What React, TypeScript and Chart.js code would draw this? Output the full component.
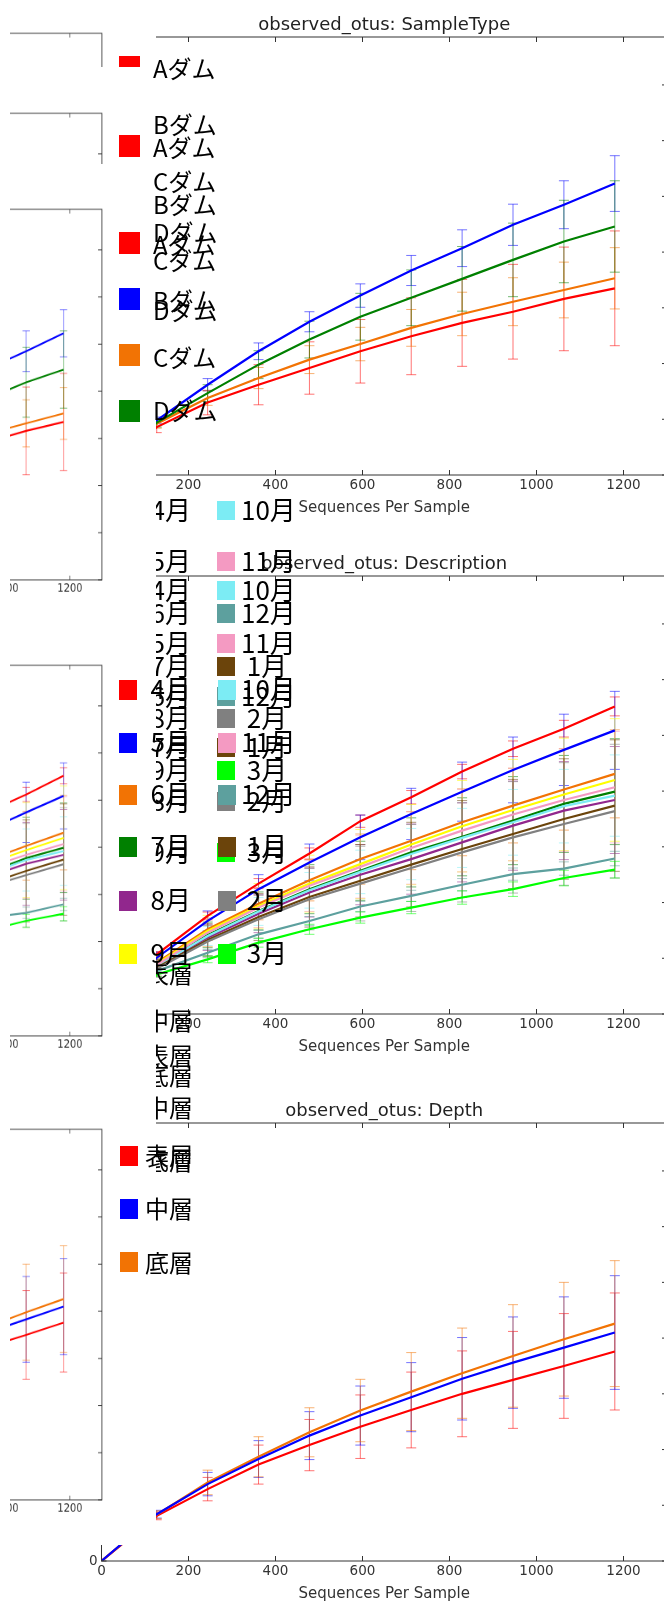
import React, { useEffect, useRef } from "react";
import { Chart, registerables } from "chart.js";

Chart.register(...registerables);

// ---------------- data ----------------
const DEPTHS = [0, 127, 244, 361, 478, 595, 712, 829, 946, 1063, 1180];
const X_TICKS = [0, 200, 400, 600, 800, 1000, 1200];
const Y_TICKS = [0, 10, 20, 30, 40, 50, 60, 70];
const X_MAX = 1300;
const Y_MAX = 78.6;

// observed_otus: SampleType
const SAMPLETYPE_LABELS = ["Aダム", "Bダム", "Cダム", "Dダム"];
const SAMPLETYPE_COLORS = ["#ff0000", "#0000ff", "#f27304", "#008000"];
const DAM_A = [0, 8.6, 13.0, 16.2, 19.2, 22.2, 24.9, 27.3, 29.3, 31.6, 33.5];
const DAM_B = [0, 9.8, 16.2, 22.2, 27.5, 32.2, 36.7, 40.7, 44.9, 48.5, 52.3];
const DAM_C = [0, 9.2, 13.8, 17.4, 20.7, 23.5, 26.4, 28.9, 31.1, 33.2, 35.3];
const DAM_D = [0, 9.4, 14.7, 19.8, 24.3, 28.4, 31.8, 35.2, 38.6, 41.9, 44.6];
const DAM_A_SD = [0, 1.0, 2.2, 3.6, 4.7, 5.7, 6.9, 7.8, 8.5, 9.3, 10.3];
const DAM_B_SD = [0, 0.6, 1.1, 1.5, 1.8, 2.1, 2.7, 3.3, 3.7, 4.3, 5.0];
const DAM_C_SD = [0, 0.8, 1.3, 1.9, 2.5, 3.0, 3.3, 3.9, 4.3, 5.0, 5.5];
const DAM_D_SD = [0, 0.8, 1.5, 2.5, 3.3, 4.2, 5.0, 5.8, 6.6, 7.4, 8.2];

// observed_otus: Description (legend order)
const MONTH_LABELS = ["4月", "5月", "6月", "7月", "8月", "9月", "10月", "11月", "12月", " 1月", " 2月", " 3月"];
const MONTH_COLORS = ["#ff0000", "#0000ff", "#f27304", "#008000", "#91278d", "#ffff00", "#7cecf4", "#f49ac2", "#5da09e", "#6b440b", "#808080", "#00ff00"];
const M04 = [0, 10.7, 17.6, 23.4, 28.8, 34.6, 38.9, 43.5, 47.6, 51.2, 55.2];
const M05 = [0, 10.1, 16.7, 22.4, 27.2, 31.7, 35.9, 39.9, 43.8, 47.4, 50.9];
const M06 = [0, 9.2, 15.2, 19.8, 24.0, 27.8, 31.1, 34.4, 37.4, 40.3, 43.1];
const M07 = [0, 8.7, 14.2, 18.5, 22.4, 25.7, 29.0, 31.8, 34.7, 37.7, 39.9];
const M08 = [0, 8.5, 13.7, 18.0, 21.8, 25.0, 27.8, 30.8, 33.8, 36.5, 38.4];
const M09 = [0, 9.0, 14.9, 19.4, 23.4, 26.9, 30.4, 33.7, 36.6, 39.4, 42.0];
const M10 = [0, 8.6, 14.0, 18.4, 22.2, 25.5, 28.7, 31.6, 34.4, 37.3, 39.2];
const M11 = [0, 8.8, 14.6, 19.1, 23.0, 26.4, 29.8, 32.9, 35.8, 38.4, 40.7];
const M12 = [0, 7.7, 11.0, 14.3, 16.7, 19.3, 21.2, 23.2, 25.1, 26.1, 27.9];
const M01 = [0, 8.3, 13.3, 17.4, 21.0, 23.9, 26.8, 29.6, 32.3, 35.0, 37.4];
const M02 = [0, 8.1, 13.0, 17.0, 20.6, 23.4, 26.2, 29.0, 31.7, 34.1, 36.4];
const M03 = [0, 7.1, 9.8, 12.8, 15.2, 17.3, 19.1, 20.9, 22.4, 24.4, 25.9];
const M04_SD = [0, 0.5, 0.7, 0.9, 1.0, 1.1, 1.2, 1.3, 1.4, 1.5, 1.7];
const M05_SD = [0, 1.0, 1.8, 2.6, 3.3, 4.0, 4.6, 5.3, 5.9, 6.4, 7.0];
const M06_SD = [0, 1.1, 2.0, 2.9, 3.7, 4.5, 5.2, 6.0, 6.7, 7.3, 7.9];
const M07_SD = [0, 1.2, 2.3, 3.4, 4.4, 5.3, 6.2, 7.0, 7.9, 8.7, 9.5];
const M08_SD = [0, 1.2, 2.3, 3.4, 4.4, 5.4, 6.3, 7.1, 8.0, 8.8, 9.6];
const M09_SD = [0, 1.5, 2.8, 4.0, 5.1, 6.2, 7.2, 8.2, 9.1, 10.1, 11.0];
const M10_SD = [0, 0.9, 1.7, 2.5, 3.2, 3.9, 4.6, 5.3, 5.9, 6.6, 7.3];
const M11_SD = [0, 1.3, 2.5, 3.6, 4.6, 5.6, 6.5, 7.4, 8.3, 9.2, 10.0];
const M12_SD = [0, 0.4, 0.6, 0.7, 0.8, 0.9, 1.0, 1.1, 1.1, 1.2, 1.3];
const M01_SD = [0, 1.5, 2.9, 4.2, 5.4, 6.5, 7.6, 8.7, 9.8, 10.8, 11.8];
const M02_SD = [0, 1.5, 2.9, 4.3, 5.5, 6.7, 7.8, 8.9, 10.0, 11.0, 12.0];
const M03_SD = [0, 0.4, 0.6, 0.8, 0.9, 1.0, 1.1, 1.2, 1.3, 1.4, 1.5];

// observed_otus: Depth
const DEPTH_LABELS = ["表層", "中層", "底層"];
const DEPTH_COLORS = ["#ff0000", "#0000ff", "#f27304"];
const SURFACE = [0, 8.1, 12.9, 17.3, 20.8, 24.1, 27.1, 30.0, 32.5, 35.0, 37.6];
const MIDDLE = [0, 8.4, 13.8, 18.3, 22.5, 26.1, 29.4, 32.7, 35.6, 38.3, 41.0];
const BOTTOM = [0, 8.3, 14.1, 18.7, 23.1, 27.0, 30.4, 33.7, 36.8, 39.8, 42.6];
const SURFACE_SD = [0, 0.7, 2.1, 3.5, 4.6, 5.7, 6.8, 7.7, 8.7, 9.4, 10.5];
const MIDDLE_SD = [0, 0.7, 2.1, 3.3, 4.3, 5.3, 6.2, 7.4, 8.2, 9.1, 10.2];
const BOTTOM_SD = [0, 0.7, 2.2, 3.6, 4.4, 5.6, 7.0, 8.1, 9.2, 10.2, 11.3];

type Series = { label: string; color: string; values: number[]; sd: number[] };

const SAMPLETYPE: Series[] = [
  { label: SAMPLETYPE_LABELS[0], color: SAMPLETYPE_COLORS[0], values: DAM_A, sd: DAM_A_SD },
  { label: SAMPLETYPE_LABELS[1], color: SAMPLETYPE_COLORS[1], values: DAM_B, sd: DAM_B_SD },
  { label: SAMPLETYPE_LABELS[2], color: SAMPLETYPE_COLORS[2], values: DAM_C, sd: DAM_C_SD },
  { label: SAMPLETYPE_LABELS[3], color: SAMPLETYPE_COLORS[3], values: DAM_D, sd: DAM_D_SD },
];
const MONTH_VALUES = [M04, M05, M06, M07, M08, M09, M10, M11, M12, M01, M02, M03];
const MONTH_SDS = [M04_SD, M05_SD, M06_SD, M07_SD, M08_SD, M09_SD, M10_SD, M11_SD, M12_SD, M01_SD, M02_SD, M03_SD];
const DESCRIPTION: Series[] = MONTH_LABELS.map((l, i) => ({ label: l, color: MONTH_COLORS[i], values: MONTH_VALUES[i], sd: MONTH_SDS[i] }));
const DEPTH: Series[] = [
  { label: DEPTH_LABELS[0], color: DEPTH_COLORS[0], values: SURFACE, sd: SURFACE_SD },
  { label: DEPTH_LABELS[1], color: DEPTH_COLORS[1], values: MIDDLE, sd: MIDDLE_SD },
  { label: DEPTH_LABELS[2], color: DEPTH_COLORS[2], values: BOTTOM, sd: BOTTOM_SD },
];

// drawing order (lower = drawn later / on top)
const SAMPLETYPE_ORDER = [0, -1, -2, -3];
const DESCRIPTION_ORDER = [0, -1, -2, -3, -4, -5, -6, -7, -8, -9, -10, -11];
const DEPTH_ORDER = [0, -2, -1];

// ---------------- chart ----------------
const CW = 720;
const CH = 530;
const PLOT_LEFT = 101.5;
const PLOT_RIGHT = 667;
const PLOT_TOP = 37;
const PLOT_BOTTOM = 475;

const decorPlugin = {
  id: "decor",
  beforeDatasetsDraw(chart: any) {
    const { ctx, chartArea, scales } = chart;
    const xs = scales.x;
    const ys = scales.y;
    ctx.save();
    ctx.beginPath();
    ctx.rect(chartArea.left, chartArea.top, chartArea.right - chartArea.left, chartArea.bottom - chartArea.top);
    ctx.clip();
    ctx.lineWidth = 1;
    ctx.globalAlpha = 0.55;
    chart.data.datasets.forEach((ds: any) => {
      const sd: number[] = ds.errorBars;
      ctx.strokeStyle = ds.borderColor;
      ds.data.forEach((p: any, j: number) => {
        if (!sd || !sd[j]) return;
        const x = xs.getPixelForValue(p.x);
        const y1 = ys.getPixelForValue(p.y + sd[j]);
        const y2 = ys.getPixelForValue(p.y - sd[j]);
        ctx.beginPath();
        ctx.moveTo(x, y1);
        ctx.lineTo(x, y2);
        ctx.moveTo(x - 5, y1);
        ctx.lineTo(x + 5, y1);
        ctx.moveTo(x - 5, y2);
        ctx.lineTo(x + 5, y2);
        ctx.stroke();
      });
    });
    ctx.restore();
  },
  afterDraw(chart: any, _args: any, opts: any) {
    const { ctx, chartArea, scales } = chart;
    const xs = scales.x;
    const ys = scales.y;
    const { left, right, top, bottom } = chartArea;
    ctx.save();
    ctx.strokeStyle = "#333";
    ctx.lineWidth = 1;
    ctx.strokeRect(left, top, right - left, bottom - top);
    ctx.beginPath();
    X_TICKS.forEach((v) => {
      const x = xs.getPixelForValue(v);
      ctx.moveTo(x, bottom);
      ctx.lineTo(x, bottom - 5);
      ctx.moveTo(x, top);
      ctx.lineTo(x, top + 5);
    });
    Y_TICKS.forEach((v) => {
      const y = ys.getPixelForValue(v);
      ctx.moveTo(left, y);
      ctx.lineTo(left + 5, y);
      ctx.moveTo(right, y);
      ctx.lineTo(right - 5, y);
    });
    ctx.stroke();
    ctx.fillStyle = "#333";
    ctx.font = "13.5px 'DejaVu Sans'";
    ctx.textAlign = "center";
    ctx.textBaseline = "middle";
    X_TICKS.forEach((v) => ctx.fillText(String(v), xs.getPixelForValue(v), bottom + 10));
    ctx.textAlign = "right";
    ctx.fillText("0", left - 4, ys.getPixelForValue(0));
    ctx.textAlign = "center";
    ctx.font = "15px 'DejaVu Sans'";
    ctx.fillText("Sequences Per Sample", (left + right) / 2, bottom + 33);
    ctx.font = "18px 'DejaVu Sans'";
    ctx.fillStyle = "#222";
    ctx.fillText(opts.title, (left + right) / 2, top - 12);
    ctx.restore();
  },
};

function makeConfig(series: Series[], title: string, order: number[]): any {
  return {
    type: "line",
    data: {
      datasets: series.map((s, i) => ({
        label: s.label,
        data: DEPTHS.map((d, k) => ({ x: d, y: s.values[k] })),
        borderColor: s.color,
        backgroundColor: s.color,
        borderWidth: 2.2,
        pointRadius: 0,
        tension: 0,
        fill: false,
        order: order[i],
        errorBars: s.sd,
      })),
    },
    options: {
      responsive: false,
      animation: false,
      devicePixelRatio: 1,
      layout: { padding: { top: PLOT_TOP, right: CW - PLOT_RIGHT, left: 0, bottom: 0 } },
      plugins: {
        legend: { display: false },
        tooltip: { enabled: false },
        title: { display: false },
        decor: { title },
      },
      scales: {
        x: {
          type: "linear",
          min: 0,
          max: X_MAX,
          ticks: { display: false },
          grid: { display: false },
          border: { display: false },
          afterFit: (s: any) => {
            s.height = CH - PLOT_BOTTOM;
          },
        },
        y: {
          type: "linear",
          min: 0,
          max: Y_MAX,
          ticks: { display: false },
          grid: { display: false },
          border: { display: false },
          afterFit: (s: any) => {
            s.width = PLOT_LEFT;
          },
        },
      },
    },
    plugins: [decorPlugin],
  };
}

function RarefactionCanvas({ series, title, order }: { series: Series[]; title: string; order: number[] }) {
  const ref = useRef<HTMLCanvasElement>(null);
  useEffect(() => {
    const chart = new Chart(ref.current as HTMLCanvasElement, makeConfig(series, title, order));
    return () => chart.destroy();
  }, [series, title, order]);
  return <canvas ref={ref} width={CW} height={CH} style={{ display: "block", width: CW, height: CH }} />;
}

function MainChart({ series, title, order, top }: { series: Series[]; title: string; order: number[]; top: number }) {
  return (
    <div style={{ position: "absolute", left: 0, top, width: CW, height: CH }}>
      <RarefactionCanvas series={series} title={title} order={order} />
    </div>
  );
}

const SX = 0.7344;
const SY = 0.846;
function Thumb({ series, title, order, winTop, winHeight, chartTop }: { series: Series[]; title: string; order: number[]; winTop: number; winHeight: number; chartTop: number }) {
  const winLeft = 10;
  const tx = 102 - PLOT_RIGHT * SX;
  const ty = chartTop - PLOT_TOP * SY;
  return (
    <div style={{ position: "absolute", left: winLeft, top: winTop, width: 94, height: winHeight, overflow: "hidden", background: "#fff" }}>
      <div style={{ position: "absolute", left: tx - winLeft, top: ty - winTop, width: CW, height: CH, transform: `scale(${SX}, ${SY})`, transformOrigin: "0 0" }}>
        <RarefactionCanvas series={series} title={title} order={order} />
      </div>
    </div>
  );
}

const JP = "'Noto Sans CJK JP', 'Noto Sans CJK SC', sans-serif";

function Sq({ x, y, w, h, color }: { x: number; y: number; w: number; h: number; color: string }) {
  return <div style={{ position: "absolute", left: x, top: y, width: w, height: h, background: color }} />;
}
function Txt({ x, y, size, text }: { x: number; y: number; size: number; text: string }) {
  return (
    <div style={{ position: "absolute", left: x, top: y, fontFamily: JP, fontSize: size, lineHeight: `${size}px`, whiteSpace: "pre", color: "#000" }}>
      {text}
    </div>
  );
}

// legend layout (positions only)
const TOP_COPY_X = [55.8, 112.1, 169.1, 220.1];
const TOP_COPY_Y = [135.1, 191.8, 248.1, 298.1];
const TOP_COPY_Z = [231.8, 288.1, 345.1, 398.1];
const TOP_SQ_Z = [232.3, 288.3, 344, 400];
const MID_GHOST_P = [501, 552, 604, 657, 709, 761];
const MID_GHOST_Q = [581, 634, 687, 738, 792, 843];
const MID_FINAL = [680, 733, 785, 837, 891, 944];
const BOT_GHOSTS: [number, number][] = [
  [0, 960.5],
  [1, 1007.5],
  [2, 1062.5],
  [0, 1042.5],
  [1, 1094.5],
  [2, 1147.5],
];
const BOT_SQ = [1146, 1199, 1252];
const BOT_TXT = [1142.5, 1195.5, 1249.5];

export default function App() {
  return (
    <div style={{ position: "absolute", left: 0, top: 0, width: 664, height: 1602, overflow: "hidden", background: "#fff" }}>
      <MainChart series={SAMPLETYPE} title="observed_otus: SampleType" order={SAMPLETYPE_ORDER} top={0} />
      <MainChart series={DESCRIPTION} title="observed_otus: Description" order={DESCRIPTION_ORDER} top={539} />
      <MainChart series={DEPTH} title="observed_otus: Depth" order={DEPTH_ORDER} top={1086} />

      {/* ghost legend copies (under the mask) */}
      {[MID_GHOST_P, MID_GHOST_Q].map((rows, c) =>
        rows.map((s, r) => (
          <React.Fragment key={`g${c}-${r}`}>
            <Txt x={150.5} y={s - 4.6} size={26} text={MONTH_LABELS[r]} />
            <Sq x={216.5} y={s} w={18} h={19} color={MONTH_COLORS[r + 6]} />
            <Txt x={241} y={s - 4.6} size={26} text={MONTH_LABELS[r + 6]} />
          </React.Fragment>
        ))
      )}
      {BOT_GHOSTS.map(([i, y], k) => (
        <Txt key={`bg${k}`} x={145} y={y} size={24} text={DEPTH_LABELS[i]} />
      ))}

      {/* white mask on the left */}
      <div style={{ position: "absolute", left: 0, top: 0, width: 156, height: 1545, background: "#fff" }} />

      {/* left thumbnails */}
      <Thumb series={SAMPLETYPE} title="observed_otus: SampleType" order={SAMPLETYPE_ORDER} winTop={32} winHeight={35} chartTop={33} />
      <Thumb series={SAMPLETYPE} title="observed_otus: SampleType" order={SAMPLETYPE_ORDER} winTop={112} winHeight={52} chartTop={113} />
      <Thumb series={SAMPLETYPE} title="observed_otus: SampleType" order={SAMPLETYPE_ORDER} winTop={207} winHeight={390} chartTop={209} />
      <Thumb series={DESCRIPTION} title="observed_otus: Description" order={DESCRIPTION_ORDER} winTop={663} winHeight={390} chartTop={665} />
      <Thumb series={DEPTH} title="observed_otus: Depth" order={DEPTH_ORDER} winTop={1127} winHeight={390} chartTop={1129} />

      {/* SampleType legend copies */}
      <Sq x={119.3} y={56} w={20.7} h={10.7} color={SAMPLETYPE_COLORS[0]} />
      <Sq x={119.3} y={135} w={20.7} h={22} color={SAMPLETYPE_COLORS[0]} />
      {TOP_SQ_Z.map((y, i) => (
        <Sq key={`tz${i}`} x={119.3} y={y} w={20.7} h={22} color={SAMPLETYPE_COLORS[i]} />
      ))}
      {[TOP_COPY_X, TOP_COPY_Y, TOP_COPY_Z].map((rows, c) =>
        rows.map((y, i) => <Txt key={`tt${c}-${i}`} x={153} y={y} size={24} text={SAMPLETYPE_LABELS[i]} />)
      )}

      {/* Description legend (final copy) */}
      {MID_FINAL.map((s, r) => (
        <React.Fragment key={`mf${r}`}>
          <Sq x={119} y={s} w={18} h={20} color={MONTH_COLORS[r]} />
          <Txt x={150.5} y={s - 4.6} size={26} text={MONTH_LABELS[r]} />
          <Sq x={218} y={s} w={18} h={20} color={MONTH_COLORS[r + 6]} />
          <Txt x={241} y={s - 4.6} size={26} text={MONTH_LABELS[r + 6]} />
        </React.Fragment>
      ))}

      {/* Depth legend */}
      {BOT_SQ.map((y, i) => (
        <React.Fragment key={`bf${i}`}>
          <Sq x={120} y={y} w={18} h={20} color={DEPTH_COLORS[i]} />
          <Txt x={145} y={BOT_TXT[i]} size={24} text={DEPTH_LABELS[i]} />
        </React.Fragment>
      ))}
    </div>
  );
}
